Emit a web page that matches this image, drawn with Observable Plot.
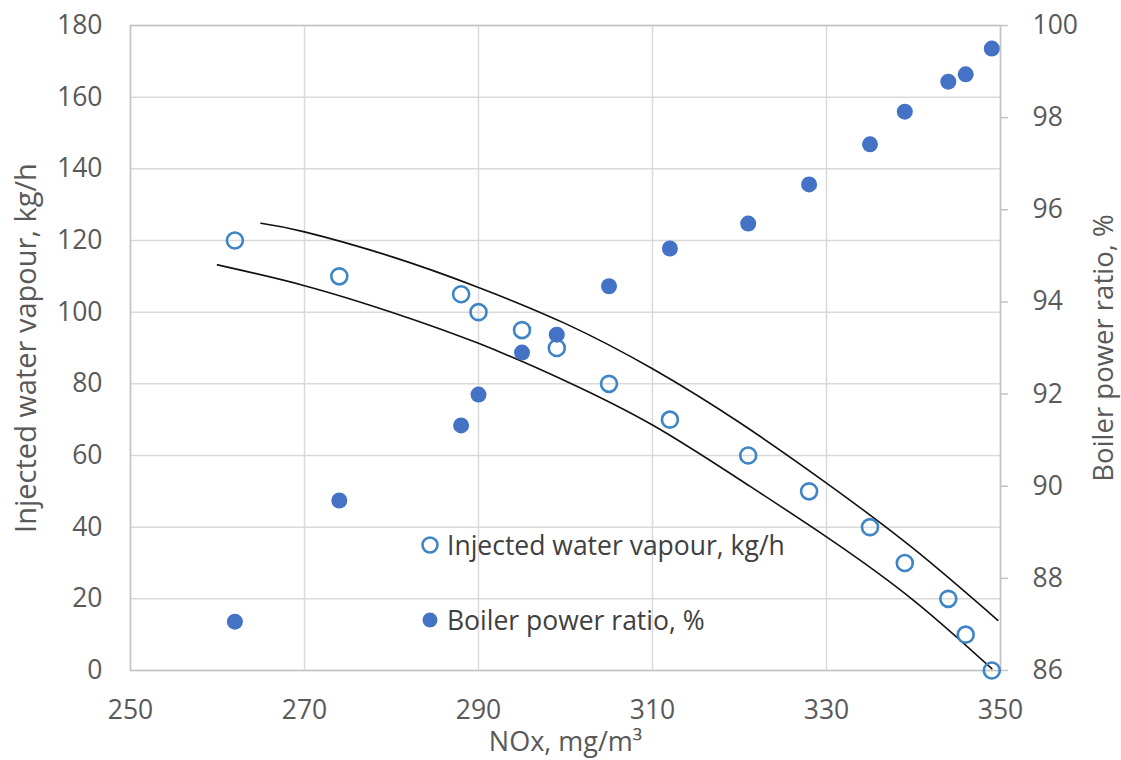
<!DOCTYPE html>
<html><head><meta charset="utf-8">
<script src="https://cdn.jsdelivr.net/npm/d3@7"></script>
<script src="https://cdn.jsdelivr.net/npm/@observablehq/plot@0.6"></script>
<style>
body{margin:0;background:#fff;}
#wrap{position:relative;width:1121px;height:760px;overflow:hidden;font-family:"Open Sans",sans-serif;background:#fff;}
.leg{position:absolute;display:flex;align-items:center;height:30px;font-size:26.5px;line-height:30px;color:#404040;white-space:nowrap;}
.leg svg{display:block;}
.leg span{margin-left:7px;}
</style></head><body><div id="wrap"></div>
<script>
// ---- data ----
const nox     = [262, 274, 288, 290, 295, 299, 305, 312, 321, 328, 335, 339, 344, 346, 349];
const vapour  = [120, 110, 105, 100, 95, 90, 80, 70, 60, 50, 40, 30, 20, 10, 0];
const boiler  = [87.06, 89.69, 91.32, 91.99, 92.90, 93.29, 94.34, 95.16, 95.70, 96.55, 97.42, 98.13, 98.78, 98.94, 99.50];

const upperX = [265, 270, 280, 290, 300, 310, 320, 330, 340, 349.7];
const upperY = [124.8, 122.4, 115.5, 106.9, 96.8, 84.2, 69.2, 52.3, 34.0, 14.0];
const lowerX = [260, 270, 280, 290, 300, 310, 320, 330, 340, 349];
const lowerY = [113.2, 107.4, 100.0, 91.3, 80.8, 68.5, 53.3, 37.3, 19.6, 0.5];

const xTicks = [250, 270, 290, 310, 330, 350];
const yTicks = [0, 20, 40, 60, 80, 100, 120, 140, 160, 180];
const rightTicks = [86, 88, 90, 92, 94, 96, 98, 100];
const seriesNames = ["Injected water vapour, kg/h", "Boiler power ratio, %"];
const xTitle = "NOx, mg/m³";

// ---- helpers ----
const rMin = 86, rMax = 100, lMax = 180;
const toLeft = v => (v - rMin) * lMax / (rMax - rMin);
const fromLeft = y => rMin + y * (rMax - rMin) / lMax;

const points = nox.map((x, i) => ({x, vapour: vapour[i], boiler: boiler[i]}));
const upper = upperX.map((x, i) => ({x, y: upperY[i]}));
const lower = lowerX.map((x, i) => ({x, y: lowerY[i]}));

const ringColor = "#3d85c6";
const dotColor = "#4472c4";
const gridColor = "#d9d9d9";
const textColor = "#595959";

const chart = Plot.plot({
  width: 1121, height: 760,
  marginLeft: 130, marginRight: 121, marginTop: 25, marginBottom: 90,
  style: {fontFamily: '"Open Sans", sans-serif', fontSize: "26.5px", color: textColor, background: "#fff", overflow: "visible"},
  x: {domain: [250, 350]},
  y: {domain: [0, 180]},
  marks: [
    Plot.gridX(xTicks, {stroke: gridColor, strokeOpacity: 1, strokeWidth: 1.5}),
    Plot.gridY(yTicks, {stroke: gridColor, strokeOpacity: 1, strokeWidth: 1.5}),
    Plot.frame({stroke: "#c4c4c4", strokeWidth: 1.5}),
    Plot.axisX(xTicks, {tickSize: 0, tickPadding: 30, fill: textColor, fontSize: 26.5, label: null}),
    Plot.axisX({ticks: [], tickSize: 0, fill: textColor, fontSize: 27, label: xTitle, labelAnchor: "center", labelArrow: "none", labelOffset: 80}),
    Plot.axisY(yTicks, {anchor: "left", tickSize: 0, tickPadding: 28, fill: textColor, fontSize: 26.5, label: null}),
    Plot.axisY({anchor: "left", ticks: [], tickSize: 0, fill: textColor, fontSize: 29, label: seriesNames[0], labelAnchor: "center", labelArrow: "none", labelOffset: 115}),
    Plot.axisY(rightTicks.map(toLeft), {anchor: "right", tickSize: 7, tickPadding: 25, stroke: "#c4c4c4", strokeWidth: 1.5, fill: textColor, fontSize: 26.5,
      tickFormat: d => Math.round(fromLeft(d)), label: null}),
    Plot.axisY({anchor: "right", ticks: [], tickSize: 0, fill: textColor, fontSize: 27.5, label: seriesNames[1], labelAnchor: "center", labelArrow: "none", labelOffset: 112}),
    Plot.line(upper, {x: "x", y: "y", curve: "natural", stroke: "#111", strokeWidth: 1.6}),
    Plot.line(lower, {x: "x", y: "y", curve: "natural", stroke: "#111", strokeWidth: 1.6}),
    Plot.dot(points, {x: "x", y: "vapour", r: 8, stroke: ringColor, strokeWidth: 2.6, fill: "none"}),
    Plot.dot(points, {x: "x", y: d => toLeft(d.boiler), r: 8, fill: dotColor, stroke: "none"})
  ]
});

const wrap = document.getElementById("wrap");
wrap.appendChild(chart);

// legend (HTML overlay)
const legItems = [
  {name: seriesNames[0], top: 530, svg: `<svg width="20" height="20"><circle cx="10" cy="10" r="7.5" fill="none" stroke="${ringColor}" stroke-width="2.6"/></svg>`},
  {name: seriesNames[1], top: 605, svg: `<svg width="20" height="20"><circle cx="10" cy="10" r="7.5" fill="${dotColor}"/></svg>`}
];
for (const it of legItems) {
  const d = document.createElement("div");
  d.className = "leg";
  d.style.left = "420px";
  d.style.top = it.top + "px";
  d.innerHTML = it.svg + `<span>${it.name}</span>`;
  wrap.appendChild(d);
}
</script></body></html>
